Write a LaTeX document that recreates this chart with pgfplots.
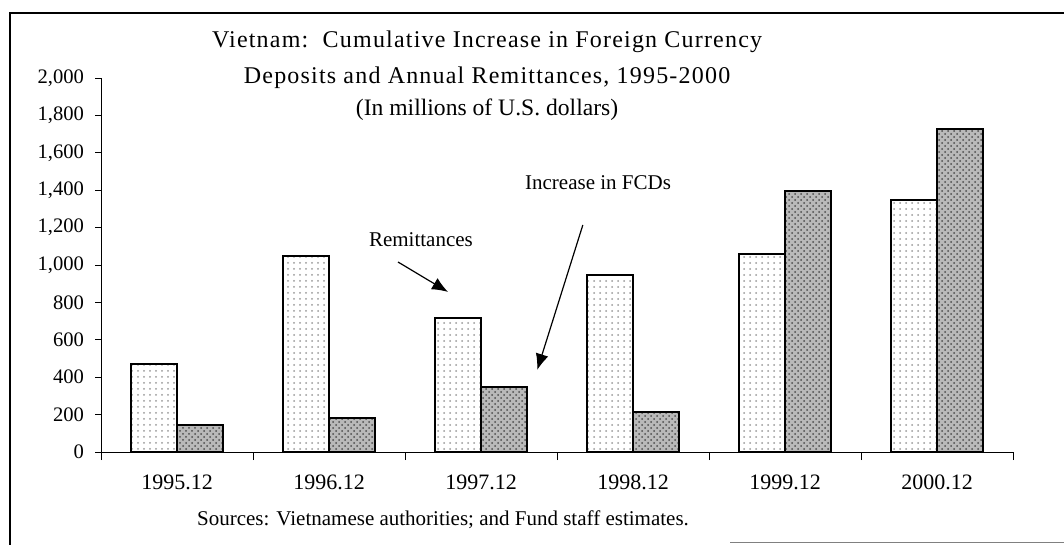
\documentclass[border=0pt]{standalone}
\usepackage{fontspec}
\setmainfont{Liberation Serif}
\usepackage{pgfplots}
\pgfplotsset{compat=1.18}
\usetikzlibrary{patterns,arrows.meta}

\begin{document}
\begin{tikzpicture}
\useasboundingbox (0pt,0pt) rectangle (532pt,-272.5pt);
\draw[line width=0.8pt] (5pt,-272.5pt) -- (5pt,-6.5pt) -- (532pt,-6.5pt);
\draw[line width=0.8pt, gray] (365pt,-271.3pt) -- (532pt,-271.3pt);
\begin{axis}[
  at={(50.5pt,-226pt)}, anchor=south west,
  scale only axis, width=456pt, height=187pt,
  xmin=-0.5, xmax=5.5, ymin=0, ymax=2000,
  axis lines=left, axis line style={-, line width=0.5pt},
  ytick={0,200,...,2000},
  scaled y ticks=false,
  /pgf/number format/1000 sep={,},
  /pgf/number format/assume math mode=true,
  xtick={0,1,2,3,4,5},
  xticklabels={1995.12,1996.12,1997.12,1998.12,1999.12,2000.12},
  minor xtick={-0.5,0.5,...,5.5},
  major x tick style={draw=none},
  tick align=outside,
  major tick length=3pt, minor tick length=4pt,
  tick style={black, line width=0.5pt},
  yticklabel style={font=\fontsize{10.3}{12}\selectfont, xshift=-2pt},
  xticklabel style={font=\fontsize{11}{12}\selectfont, anchor=north, text height=8pt, text depth=2pt, yshift=-4pt},
  ybar=0pt, bar width=0.3,
  clip=false,
]
\addplot[draw=black, line width=1pt, fill=white,
  postaction={pattern=dots, pattern color=gray!80}]
  coordinates {(0,472) (1,1050) (2,715) (3,945) (4,1060) (5,1345)};
\addplot[draw=black, line width=1pt, fill=gray!55,
  postaction={pattern=crosshatch dots, pattern color=black!70}]
  coordinates {(0,145) (1,180) (2,345) (3,215) (4,1395) (5,1725)};

\node[font={\fontsize{12}{14}\selectfont\addfontfeatures{LetterSpace=5}}] at (axis cs:2.04,2193) {Vietnam:\ \ Cumulative Increase in Foreign Currency};
\node[font={\fontsize{12}{14}\selectfont\addfontfeatures{LetterSpace=5}}] at (axis cs:2.04,2000) {Deposits and Annual Remittances, 1995-2000};
\node[font=\fontsize{11.8}{13}\selectfont] at (axis cs:2.04,1829) {(In millions of U.S. dollars)};

\node[font=\fontsize{10.5}{12}\selectfont] at (axis cs:1.605,1134) {Remittances};
\draw[line width=0.6pt, -{Latex[length=8pt,width=6.5pt]}] (axis cs:1.454,1016) -- (axis cs:1.783,856);
\node[font=\fontsize{10.5}{12}\selectfont] at (axis cs:2.77,1439) {Increase in FCDs};
\draw[line width=0.6pt, -{Latex[length=8pt,width=6.5pt]}] (axis cs:2.67,1214) -- (axis cs:2.37,439);

\node[font=\fontsize{10.5}{12}\selectfont] at (axis cs:1.75,-364) {Sources: Vietnamese authorities; and Fund staff estimates.};
\end{axis}
\end{tikzpicture}
\end{document}
